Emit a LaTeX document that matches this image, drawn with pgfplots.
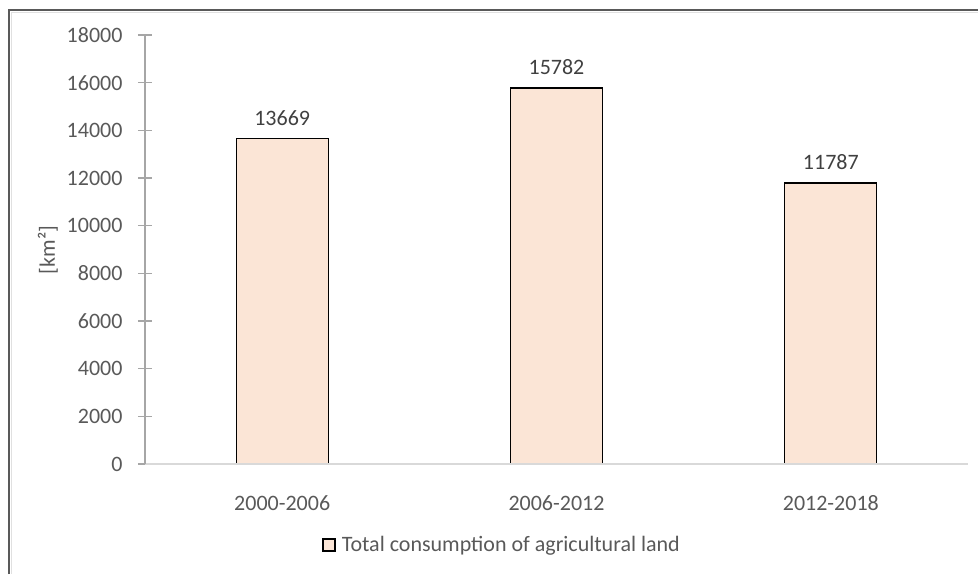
\documentclass[border=0pt]{standalone}
\usepackage{fontspec}
\setmainfont{Carlito}
\usepackage{pgfplots}
\pgfplotsset{compat=1.18}
\definecolor{barfill}{HTML}{FBE5D6}
\definecolor{txt}{HTML}{595959}
\definecolor{vtxt}{HTML}{404040}
\definecolor{yax}{HTML}{A6A6A6}
\definecolor{xax}{HTML}{D9D9D9}
\begin{document}
\fontsize{22}{26}\selectfont
\begin{tikzpicture}[x=1pt,y=1pt]
\useasboundingbox (0,0) rectangle (978,574);
\draw[line width=1.5pt, color=black!12] (11.5,0) -- (11.5,561.5) -- (978,561.5);
\draw[line width=2pt, color=black!65] (9,0) -- (9,564) -- (978,564);
\begin{axis}[
  at={(145pt,110pt)}, anchor=south west,
  scale only axis, width=823pt, height=429pt,
  xmin=-0.5, xmax=2.5, ymin=0, ymax=18000,
  axis x line*=bottom, axis y line*=left,
  axis on top,
  x axis line style={color=xax, line width=1.5pt},
  y axis line style={color=yax, line width=1.2pt},
  ytick={0,2000,...,18000},
  xtick={0,1,2}, xticklabels={2000-2006,2006-2012,2012-2018},
  xtick style={draw=none},
  ytick style={color=yax, line width=1.2pt},
  major tick length=14pt, tick align=center,
  scaled y ticks=false,
  /pgf/number format/assume math mode=true,
  yticklabel style={/pgf/number format/1000 sep={}, color=txt, xshift=-8pt},
  xticklabel style={color=txt, yshift=-10pt},
  ybar, bar width=92pt,
  nodes near coords,
  nodes near coords style={color=vtxt, yshift=5pt, /pgf/number format/1000 sep={}},
  legend style={at={(0.434,-0.189)}, anchor=center, draw=none, fill=none,
    text=txt, font=\fontsize{22}{26}\selectfont,
    /tikz/every even column/.append style={column sep=0pt}},
  legend image code/.code={\draw[#1, line width=1.3pt] (0pt,-6pt) rectangle (12pt,6pt);},
]
\addplot[fill=barfill, draw=black, line width=1.3pt] coordinates {(0,13669) (1,15782) (2,11787)};
\addlegendentry{\hspace{4pt}Total consumption of agricultural land}
\end{axis}
\node[rotate=90, text=txt] at (48,324) {[km²]};
\end{tikzpicture}
\end{document}
